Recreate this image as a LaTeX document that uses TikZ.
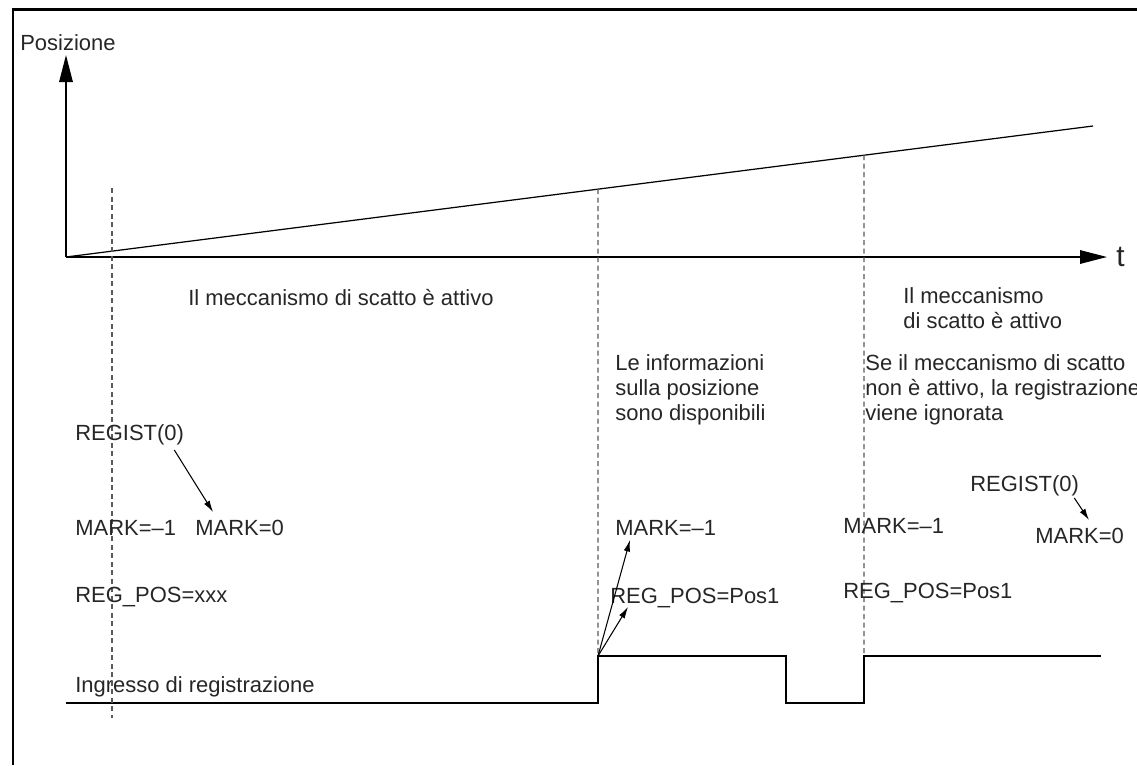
\documentclass[tikz,border=0pt]{standalone}
\usepackage{fontspec}
\setmainfont{Liberation Sans}
\usetikzlibrary{arrows.meta}

\begin{document}
\begin{tikzpicture}[x=0.02cm,y=-0.02cm,>={Latex[length=0.23cm,width=0.13cm]},
    font=\fontsize{12.5}{14.2}\selectfont,
    lbl/.style={inner sep=0pt,anchor=base west,text=black!85},
    blk/.style={inner sep=0pt,anchor=north west,align=left,text=black!85},
    guide/.style={black!65,line width=0.6pt,dash pattern=on 0.1cm off 0.07cm},
    axis/.style={line width=0.85pt,-{Triangle[length=0.54cm,width=0.27cm]}}]
  \useasboundingbox (0,0) rectangle (1137,765);
  % frame
  \draw[line width=1.7pt] (13,765) -- (13,9.5) -- (1137,9.5);

  % axes and position ramp
  \coordinate (O) at (66,257);
  \draw[axis] (O) -- (66,55);
  \draw[axis] (O) -- (1107,257);
  \node[lbl] (pos) at (20,50) {Posizione};
  \node[lbl,font=\fontsize{17}{19}\selectfont] (t) at (1116,266) {t};
  \draw[line width=0.7pt] (O) -- (1093,126)
    coordinate[pos=0.518] (r1) coordinate[pos=0.777] (r2);

  % input signal
  \coordinate (e1) at (598,656);
  \coordinate (e2) at (864,656);
  \draw[line width=1.1pt] (66,703) -- (598,703) -- (e1) -- (786,656) -- (786,703)
    -- (864,703) -- (e2) -- (1101,656);
  \node[lbl] (ing) at (75,692) {Ingresso di registrazione};

  % time marks
  \draw[guide] (112,188) -- (112,718);
  \draw[guide] (r1) -- (e1);
  \draw[guide] (r2) -- (e2);

  % texts
  \node[lbl] (att1) at (188,305) {Il meccanismo di scatto è attivo};
  \node[blk] (att2) at (903,287) {Il meccanismo\\di scatto è attivo};
  \node[blk] (info) at (615,354) {Le informazioni\\sulla posizione\\sono disponibili};
  \node[blk] (ign) at (865,354) {Se il meccanismo di scatto\\non è attivo, la registrazione\\viene ignorata};

  \node[lbl] (regA) at (75,440) {REGIST(0)};
  \node[lbl] (markA) at (75,535) {MARK=–1};
  \node[lbl] (markB) at (195,535) {MARK=0};
  \node[lbl] (posA) at (75,602) {REG\_POS=xxx};

  \node[lbl] (markC) at (615,535) {MARK=–1};
  \node[lbl] (posB) at (610,603) {REG\_POS=Pos1};

  \node[lbl] (markD) at (843,533) {MARK=–1};
  \node[lbl] (posC) at (843,598) {REG\_POS=Pos1};
  \node[lbl] (regB) at (970,491) {REGIST(0)};
  \node[lbl] (markE) at (1035,543) {MARK=0};

  % arrows
  \draw[->,line width=0.6pt] ([shift={(-10,10)}]regA.base east) -- ([shift={(18,-23)}]markB.base west);
  \draw[->,line width=0.6pt] (e1) -- ([shift={(15,5)}]markC.base west);
  \draw[->,line width=0.6pt] (e1) -- ([shift={(18,4)}]posB.base west);
  \draw[->,line width=0.6pt] ([shift={(-5,7)}]regB.base east) -- ([shift={(54,-23)}]markE.base west);
\end{tikzpicture}
\end{document}
